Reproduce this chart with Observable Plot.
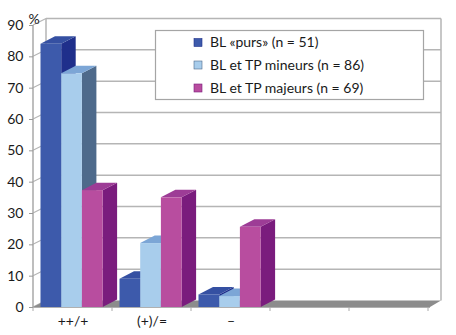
<!DOCTYPE html>
<html><head><meta charset="utf-8">
<script src="https://cdn.jsdelivr.net/npm/d3@7"></script>
<script src="https://cdn.jsdelivr.net/npm/@observablehq/plot@0.6"></script>
<style>
html,body{margin:0;padding:0;background:#fff;}
#chart{width:456px;height:335px;}
</style></head><body><div id="chart"></div>
<script>
// ---- data ----
const categories = ["++/+", "(+)/=", "–"];
const seriesNames = ["BL «purs» (n = 51)", "BL et TP mineurs (n = 86)", "BL et TP majeurs (n = 69)"];
const purs = [84, 9, 4];
const mineurs = [74.6, 20.4, 3.5];
const majeurs = [37.3, 35, 25.6];
const yTicks = [0, 10, 20, 30, 40, 50, 60, 70, 80, 90];

// ---- styles ----
const frontColors = ["#3d5aab", "#a8cdec", "#b84d9f"];
const topColors = ["#3550a2", "#7ca6d6", "#9d3c96"];
const sideColors = ["#1f2f8b", "#4e6a8b", "#7a1c7d"];
const GRID = "#b5b5b5";

const seriesVals = [purs, mineurs, majeurs];
const data = categories.flatMap((c, i) => seriesVals.map((vals, k) => ({cat: c, k, series: seriesNames[k], value: vals[i]})));
const xDomain = [...categories, "", " "];

const W = 456, H = 335, ML = 33, MR = 28, MT = 25, MB = 28;
const BW = (W - ML - MR) / xDomain.length;
const BAR_OFF = 7.5, BAR_W = 20.7, DX = 14.5, DY = -7.5, WDX = 13, WDY = -6.5;

function el(tag, attrs) {
  const e = document.createElementNS("http://www.w3.org/2000/svg", tag);
  for (const k in attrs) e.setAttribute(k, attrs[k]);
  return e;
}
function poly(pts, fill) {
  return el("polygon", {points: pts.map(p => p.join(",")).join(" "), fill});
}
function bw(x) { return x.bandwidth ? x.bandwidth() : (x(xDomain[1]) - x(xDomain[0])); }

const walls = (index, {x, y}) => {
  const g = el("g", {});
  const x0 = x(xDomain[0]), b = bw(x);
  const x1 = x(xDomain[xDomain.length - 1]) + b;
  const y0 = y(0), yTop = y(90);
  for (const t of yTicks) {
    const yy = y(t);
    if (t > 0) g.append(el("line", {x1: x0 + WDX, x2: x1 + WDX, y1: yy + WDY, y2: yy + WDY, stroke: GRID, "stroke-width": 1.5}));
    g.append(el("line", {x1: x0, x2: x0 + WDX, y1: yy, y2: yy + WDY, stroke: GRID, "stroke-width": 1.2}));
  }
  g.append(el("line", {x1: x0 + WDX, x2: x0 + WDX, y1: yTop + WDY, y2: y0 + WDY, stroke: GRID, "stroke-width": 1.5}));
  g.append(el("line", {x1: x1 + WDX, x2: x1 + WDX, y1: yTop + WDY, y2: y0 + WDY, stroke: GRID, "stroke-width": 1.5}));
  g.append(el("line", {x1: x0, x2: x0, y1: yTop, y2: y0, stroke: "#a8a8a8", "stroke-width": 1.5}));
  // floor
  g.append(poly([[x0, y0], [x1 + 2, y0], [x1 + WDX, y0 + WDY], [x0 + WDX, y0 + WDY]], "#8c8c8c"));
  g.append(el("line", {x1: x0, x2: x1 + 2, y1: y0 + 0.5, y2: y0 + 0.5, stroke: "#b0b0b0", "stroke-width": 1}));
  // category boundary ticks
  for (let i = 0; i <= xDomain.length; i++) {
    const xx = x0 + i * b;
    g.append(el("line", {x1: xx, x2: xx, y1: y0, y2: y0 + 4, stroke: "#aaa", "stroke-width": 1}));
  }
  return g;
};

const barDepth = (index, {x, y}) => {
  const g = el("g", {});
  const yb = y(0);
  for (const d of data) {
    const xl = x(d.cat) + BAR_OFF + d.k * BAR_W, xr = xl + BAR_W, yt = y(d.value);
    g.append(poly([[xr, yb], [xr, yt], [xr + DX, yt + DY], [xr + DX, yb + DY]], sideColors[d.k]));
    g.append(poly([[xl, yt], [xr, yt], [xr + DX, yt + DY], [xl + DX, yt + DY]], topColors[d.k]));
  }
  return g;
};

const legend = () => {
  const g = el("g", {});
  g.append(el("rect", {x: 155.5, y: 30.5, width: 268, height: 69, fill: "#fff", stroke: "#a5a5a5", "stroke-width": 1.2}));
  const rows = [42.5, 65, 88];
  seriesNames.forEach((s, k) => {
    g.append(el("rect", {x: 194, y: rows[k] - 4, width: 8, height: 8, fill: frontColors[k], stroke: sideColors[k], "stroke-width": 0.6}));
    const t = el("text", {x: 210, y: rows[k], dy: "0.35em", fill: "#1a1a1a", "font-size": 14, "text-anchor": "start"});
    t.textContent = s;
    g.append(t);
  });
  return g;
};

const frontBars = [0, 1, 2].map(k => Plot.barY(data.filter(d => d.k === k), {
  x: "cat", y: "value", fill: frontColors[k],
  insetLeft: BAR_OFF + k * BAR_W, insetRight: BW - BAR_OFF - (k + 1) * BAR_W
}));

const chart = Plot.plot({
  width: W, height: H,
  marginLeft: ML, marginRight: MR, marginTop: MT, marginBottom: MB,
  style: {fontFamily: "Lato, 'Open Sans', sans-serif", fontSize: "14px", color: "#1a1a1a", background: "#fff"},
  x: {type: "band", domain: xDomain, padding: 0, label: null},
  y: {domain: [0, 90], label: null},
  marks: [
    walls,
    barDepth,
    ...frontBars,
    legend,
    Plot.axisY({ticks: yTicks, tickSize: 4, tickPadding: 6, stroke: "#999", label: null, fontSize: 14}),
    Plot.axisX({tickSize: 0, tickPadding: 9, label: null, fontSize: 14}),
    Plot.text(["%"], {frameAnchor: "top-left", dx: -5, dy: -11, fontSize: 14, fill: "#1a1a1a"})
  ]
});
document.getElementById("chart").append(chart);
</script></body></html>
